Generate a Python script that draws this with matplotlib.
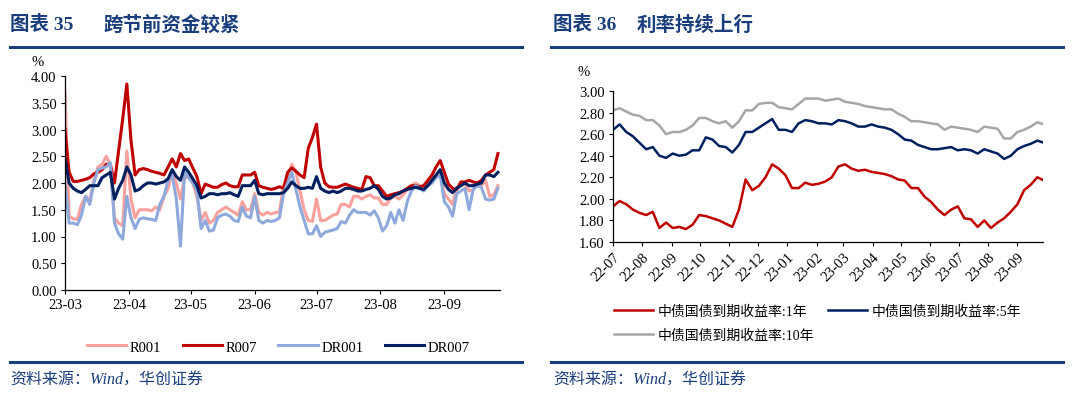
import numpy as np
import pandas as pd
import matplotlib
matplotlib.use('Agg')
import matplotlib.pyplot as plt
import matplotlib.dates as mdates
from matplotlib.lines import Line2D
from matplotlib.ticker import MultipleLocator, FormatStrFormatter

plt.rcParams['font.family'] = ['Liberation Serif', 'Noto Sans CJK SC']
plt.rcParams['axes.unicode_minus'] = False

# ---- left chart: money market rates (%), sampled every 2 days from 2023-03-01
left_dates = pd.date_range('2023-03-01', periods=106, freq='2D')
r001 = [3.70, 1.38, 1.33, 1.32, 1.60, 1.75, 1.68, 2.05, 2.30, 2.35,
        2.50, 2.35, 1.35, 1.25, 1.20, 2.60, 1.70, 1.35, 1.50, 1.50,
        1.50, 1.48, 1.55, 1.50, 1.75, 1.90, 2.20, 2.00, 1.70, 2.10,
        2.10, 2.00, 1.75, 1.30, 1.45, 1.25, 1.30, 1.45, 1.50, 1.55,
        1.50, 1.45, 1.40, 1.65, 1.50, 1.50, 1.80, 1.45, 1.40, 1.45,
        1.42, 1.45, 1.45, 1.95, 2.10, 2.35, 2.20, 1.85, 1.50, 1.30,
        1.28, 1.70, 1.30, 1.30, 1.35, 1.40, 1.42, 1.60, 1.60, 1.55,
        1.75, 1.75, 1.70, 1.75, 1.78, 1.72, 1.72, 1.60, 1.60, 1.72,
        1.75, 1.70, 1.78, 1.88, 1.95, 2.00, 1.95, 1.90, 2.00, 2.10,
        2.12, 2.20, 1.80, 1.70, 1.60, 1.92, 1.95, 1.98, 1.85, 1.88,
        1.95, 1.95, 2.05, 1.75, 1.78, 1.95]
r007 = [3.00, 2.20, 2.03, 2.03, 2.05, 2.07, 2.10, 2.17, 2.20, 2.25,
        2.35, 2.35, 2.00, 2.60, 3.20, 3.85, 2.80, 2.15, 2.25, 2.27,
        2.25, 2.22, 2.20, 2.18, 2.15, 2.30, 2.45, 2.30, 2.55, 2.42,
        2.45, 2.28, 2.12, 1.80, 1.98, 1.95, 1.92, 1.92, 1.97, 2.00,
        1.95, 1.93, 1.93, 2.15, 2.15, 2.15, 2.20, 1.95, 1.92, 1.90,
        1.88, 1.90, 1.93, 1.90, 2.20, 2.28, 2.22, 2.15, 2.10, 2.65,
        2.85, 3.10, 2.30, 2.00, 1.93, 1.92, 1.92, 1.95, 1.98, 1.95,
        1.92, 1.90, 1.88, 2.12, 2.10, 1.95, 1.95, 1.85, 1.75, 1.78,
        1.80, 1.82, 1.85, 1.90, 1.95, 1.95, 1.93, 1.95, 2.05, 2.15,
        2.30, 2.42, 2.20, 1.98, 1.90, 1.88, 2.02, 2.02, 2.05, 2.02,
        2.00, 2.05, 2.15, 2.20, 2.25, 2.55]
dr001 = [2.00, 1.25, 1.25, 1.22, 1.40, 1.75, 1.60, 2.00, 2.25, 2.28,
         2.30, 2.38, 1.25, 1.05, 0.95, 1.75, 1.35, 1.15, 1.32, 1.35,
         1.33, 1.32, 1.30, 1.60, 1.75, 2.05, 2.15, 1.70, 0.82, 2.20,
         2.10, 2.00, 1.85, 1.15, 1.30, 1.10, 1.12, 1.35, 1.40, 1.42,
         1.38, 1.30, 1.28, 1.55, 1.38, 1.35, 1.75, 1.30, 1.25, 1.30,
         1.28, 1.30, 1.35, 1.80, 2.00, 2.20, 1.88, 1.55, 1.30, 1.05,
         1.05, 1.20, 1.00, 1.08, 1.10, 1.12, 1.15, 1.28, 1.25, 1.40,
         1.50, 1.45, 1.45, 1.45, 1.40, 1.48, 1.35, 1.10, 1.20, 1.45,
         1.25, 1.50, 1.30, 1.65, 1.85, 1.95, 1.90, 1.85, 1.95, 2.00,
         2.10, 2.15, 1.65, 1.55, 1.38, 1.80, 1.85, 1.90, 1.50, 1.88,
         1.95, 1.92, 1.70, 1.68, 1.70, 1.90]
dr007 = [2.45, 2.00, 1.90, 1.85, 1.82, 1.88, 1.95, 1.95, 1.95, 2.10,
         2.15, 2.20, 1.70, 1.90, 2.05, 2.30, 2.15, 1.85, 1.88, 1.95,
         2.00, 2.00, 1.98, 2.00, 2.02, 2.08, 2.25, 2.12, 2.05, 2.30,
         2.20, 2.08, 1.95, 1.72, 1.75, 1.80, 1.80, 1.78, 1.80, 1.80,
         1.82, 1.78, 1.75, 1.95, 1.95, 1.95, 2.05, 1.80, 1.78, 1.80,
         1.80, 1.80, 1.80, 1.82, 1.90, 2.02, 1.95, 1.90, 1.90, 1.92,
         1.90, 2.12, 1.90, 1.85, 1.82, 1.85, 1.82, 1.85, 1.90, 1.90,
         1.88, 1.85, 1.85, 1.88, 1.90, 1.95, 1.88, 1.75, 1.70, 1.72,
         1.78, 1.80, 1.85, 1.88, 1.90, 1.92, 1.90, 1.88, 1.95, 2.05,
         2.15, 2.25, 2.00, 1.88, 1.82, 1.90, 1.95, 2.00, 1.95, 1.95,
         1.98, 2.00, 2.15, 2.15, 2.12, 2.20]

# ---- right chart: CGB yields (%), sampled weekly from 2022-07-01
right_dates = pd.date_range('2022-07-01', periods=66, freq='7D')
cgb_1y = [1.93, 1.98, 1.95, 1.90, 1.87, 1.85, 1.88, 1.73, 1.78, 1.73,
          1.74, 1.72, 1.76, 1.85, 1.84, 1.82, 1.80, 1.77, 1.74, 1.90,
          2.18, 2.08, 2.12, 2.20, 2.32, 2.28, 2.22, 2.10, 2.10, 2.15,
          2.13, 2.14, 2.16, 2.20, 2.30, 2.32, 2.28, 2.26, 2.27, 2.25,
          2.24, 2.23, 2.21, 2.18, 2.17, 2.10, 2.10, 2.02, 1.97, 1.90,
          1.85, 1.90, 1.93, 1.82, 1.81, 1.74, 1.80, 1.73, 1.78, 1.82,
          1.88, 1.95, 2.08, 2.13, 2.20, 2.17]
cgb_5y = [2.64, 2.69, 2.62, 2.58, 2.52, 2.46, 2.48, 2.40, 2.38, 2.42,
          2.40, 2.41, 2.45, 2.45, 2.57, 2.55, 2.49, 2.48, 2.43, 2.50,
          2.62, 2.62, 2.66, 2.70, 2.74, 2.64, 2.64, 2.62, 2.70, 2.73,
          2.72, 2.70, 2.70, 2.69, 2.73, 2.72, 2.70, 2.67, 2.67, 2.69,
          2.67, 2.66, 2.64, 2.60, 2.55, 2.54, 2.50, 2.48, 2.46, 2.46,
          2.47, 2.48, 2.45, 2.46, 2.45, 2.42, 2.46, 2.44, 2.42, 2.37,
          2.40, 2.46, 2.49, 2.51, 2.54, 2.52]
cgb_10y = [2.82, 2.84, 2.81, 2.78, 2.77, 2.73, 2.73, 2.68, 2.60, 2.62,
           2.62, 2.64, 2.68, 2.75, 2.75, 2.72, 2.70, 2.72, 2.66, 2.72,
           2.82, 2.82, 2.88, 2.89, 2.89, 2.85, 2.84, 2.83, 2.88, 2.93,
           2.93, 2.93, 2.91, 2.92, 2.93, 2.90, 2.89, 2.88, 2.86, 2.85,
           2.84, 2.83, 2.83, 2.79, 2.76, 2.72, 2.72, 2.71, 2.70, 2.69,
           2.64, 2.67, 2.66, 2.65, 2.64, 2.62, 2.67, 2.66, 2.65, 2.56,
           2.56, 2.62, 2.64, 2.67, 2.71, 2.69]

BLUE = '#1A3E7C'
W, H = 1073, 406


def fx(px):
    return px / W


def fy(py):
    return 1 - py / H


fig = plt.figure(figsize=(W / 100, H / 100), dpi=100)

# titles, rules and source notes
fig.text(fx(10), fy(25), '图表 35', fontsize=14, weight='bold', color=BLUE, va='center')
fig.text(fx(103), fy(25), '跨节前资金较紧', fontsize=14, weight='bold', color=BLUE, va='center')
fig.text(fx(553), fy(25), '图表 36', fontsize=14, weight='bold', color=BLUE, va='center')
fig.text(fx(637), fy(25), '利率持续上行', fontsize=14, weight='bold', color=BLUE, va='center')
for x0, x1 in [(10, 522), (551, 1063)]:
    fig.add_artist(Line2D([fx(x0), fx(x1)], [fy(47.5)] * 2, color=BLUE, lw=2.2))
    fig.add_artist(Line2D([fx(x0), fx(x1)], [fy(362.5)] * 2, color=BLUE, lw=2.2))
fig.text(fx(10), fy(381), '资料来源：Wind，华创证券', fontsize=11.5, style='italic',
         color=BLUE, va='center')
fig.text(fx(553), fy(381), '资料来源：Wind，华创证券', fontsize=11.5, style='italic',
         color=BLUE, va='center')


def style_axis(ax):
    for s in ['top', 'right']:
        ax.spines[s].set_visible(False)
    for s in ['left', 'bottom']:
        ax.spines[s].set_linewidth(0.9)
    ax.tick_params(direction='out', length=3, width=0.8, labelsize=10.5, pad=3)
    ax.xaxis.set_major_locator(mdates.MonthLocator())
    ax.xaxis.set_major_formatter(mdates.DateFormatter('%y-%m'))


# left chart
ax1 = fig.add_axes([fx(65), fy(291), fx(500) - fx(65), fy(77) - fy(291)])
ax1.plot(left_dates, r001, color='#F8A19D', lw=2.2, label='R001')
ax1.plot(left_dates, r007, color='#C00000', lw=2.2, label='R007')
ax1.plot(left_dates, dr001, color='#8EA9DB', lw=2.2, label='DR001')
ax1.plot(left_dates, dr007, color='#002060', lw=2.2, label='DR007')
ax1.set_ylim(0, 4)
ax1.set_xlim(pd.Timestamp('2023-03-01'), pd.Timestamp('2023-09-28'))
ax1.yaxis.set_major_locator(MultipleLocator(0.5))
ax1.yaxis.set_major_formatter(FormatStrFormatter('%.2f'))
style_axis(ax1)
fig.text(fx(38), fy(62), '%', fontsize=10.5, ha='center', va='center')
fig.legend(*ax1.get_legend_handles_labels(), loc='center left',
           bbox_to_anchor=(fx(87), fy(348)), ncol=4, frameon=False,
           fontsize=10.5, handlelength=2.7, handletextpad=0.25,
           columnspacing=1.45, borderpad=0, borderaxespad=0)

# right chart
ax2 = fig.add_axes([fx(613), fy(243), fx(1043) - fx(613), fy(92) - fy(243)])
l1, = ax2.plot(right_dates, cgb_1y, color='#C00000', lw=1.8)
l5, = ax2.plot(right_dates, cgb_5y, color='#002060', lw=1.8)
l10, = ax2.plot(right_dates, cgb_10y, color='#A6A6A6', lw=1.8)
ax2.set_ylim(1.6, 3.0)
ax2.set_xlim(pd.Timestamp('2022-07-01'), pd.Timestamp('2023-09-28'))
ax2.yaxis.set_major_locator(MultipleLocator(0.2))
ax2.yaxis.set_major_formatter(FormatStrFormatter('%.2f'))
style_axis(ax2)
for lab in ax2.get_xticklabels():
    lab.set_rotation(45)
    lab.set_ha('right')
    lab.set_rotation_mode('anchor')
fig.text(fx(584), fy(72), '%', fontsize=10.5, ha='center', va='center')
fig.legend([l1, l10, l5], ['中债国债到期收益率:1年', '中债国债到期收益率:10年', '中债国债到期收益率:5年'],
           loc='center left', bbox_to_anchor=(fx(614), fy(324.5)), ncol=2,
           frameon=False, fontsize=10, handlelength=2.8, handletextpad=0.35,
           columnspacing=1.0, labelspacing=0.75, borderpad=0, borderaxespad=0)

fig.savefig('out.png', dpi=100)
